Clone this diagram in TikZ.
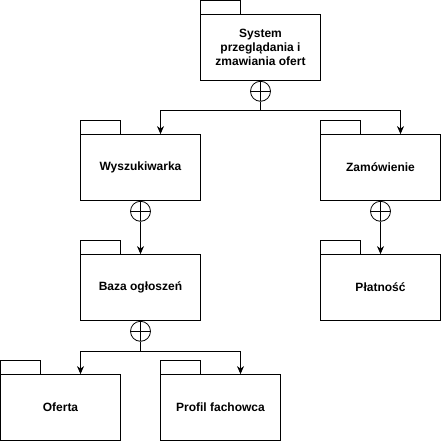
\documentclass[tikz,border=0pt]{standalone}
\usepackage{fontspec}
\setmainfont{Liberation Sans}
\usetikzlibrary{arrows.meta}
\tikzset{
  pkg/.style={draw, line width=0.8pt, rectangle, minimum width=120pt, minimum height=66pt, inner sep=0pt, align=center, font=\fontsize{12}{14}\selectfont\bfseries},
  tabbox/.style={draw, line width=0.8pt},
  nest/.style={circle, draw, line width=0.8pt, minimum size=20pt, inner sep=0pt,
    path picture={\draw[line width=0.8pt] (path picture bounding box.north) -- (path picture bounding box.south)
      (path picture bounding box.west) -- (path picture bounding box.east);}},
  conn/.style={line width=0.8pt},
  arr/.style={line width=0.8pt, -{Stealth[length=8pt,width=7pt,inset=2.5pt]}}
}
\begin{document}
\begin{tikzpicture}[x=1pt,y=-1pt]
\useasboundingbox (-0.5,-0.5) rectangle (440.5,440.5);
% packages (body centers)
\node[pkg] (sys) at (260,47) {System\\przeglądania i\\zmawiania ofert};
\node[pkg] (wys) at (140,167) {Wyszukiwarka};
\node[pkg] (zam) at (380,167) {Zamówienie};
\node[pkg] (baz) at (140,287) {Baza ogłoszeń};
\node[pkg] (pla) at (380,287) {Płatność};
\node[pkg] (ofe) at (60,407) {Oferta};
\node[pkg] (pro) at (220,407) {Profil fachowca};
% tabs
\foreach \n in {sys,wys,zam,baz,pla,ofe,pro}{
  \draw[tabbox] (\n.north west) rectangle ++(40,-14);
}
% nesting circles
\node[nest, anchor=north] (c1) at (sys.south) {};
\node[nest, anchor=north] (c2) at (wys.south) {};
\node[nest, anchor=north] (c3) at (zam.south) {};
\node[nest, anchor=north] (c4) at (baz.south) {};
% junctions
\coordinate (j1) at ([yshift=-30pt]sys.south);
\coordinate (j4) at ([yshift=-30pt]baz.south);
\draw[conn] (c1.south) -- (j1);
\draw[arr] (j1) -| ([xshift=20pt]wys.north);
\draw[arr] (j1) -| ([xshift=20pt]zam.north);
\draw[arr] (c2.south) -- (baz.north);
\draw[arr] (c3.south) -- (pla.north);
\draw[conn] (c4.south) -- (j4);
\draw[arr] (j4) -| ([xshift=20pt]ofe.north);
\draw[arr] (j4) -| ([xshift=20pt]pro.north);
\end{tikzpicture}
\end{document}
